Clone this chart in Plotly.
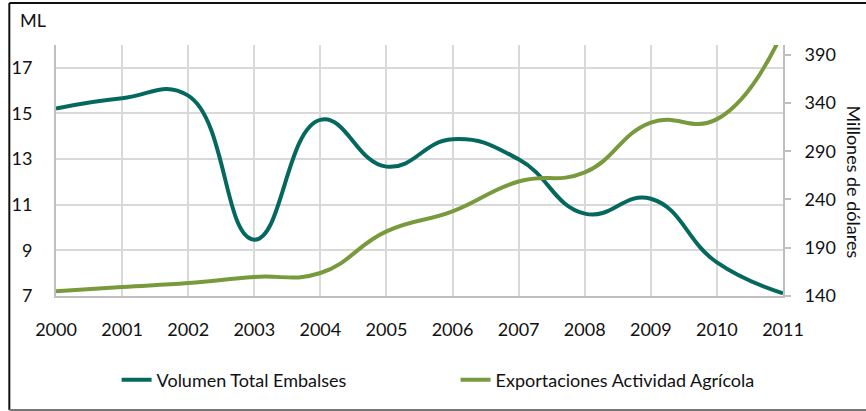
import plotly.graph_objects as go

# Data
years = [2000, 2001, 2002, 2003, 2004, 2005, 2006, 2007, 2008, 2009, 2010, 2011]
volumen_embalses = [15.22, 15.67, 15.78, 9.47, 14.72, 12.67, 13.87, 12.99, 10.61, 11.26, 8.47, 7.12]
exportaciones_agricolas = [144.8, 149.3, 153.4, 159.7, 163.8, 206.9, 227.6, 258.6, 268.0, 319.7, 323.2, 414.0]

left_ticks = [7, 9, 11, 13, 15, 17]
right_ticks = [140, 190, 240, 290, 340, 390]

# Layout geometry
W, H = 866, 411
ML, MR, MT, MB = 51, 83, 45, 115
PW, PH = W - ML - MR, H - MT - MB


def px(x):
    return (x - ML) / PW


def py(y):
    return (H - MB - y) / PH


TEAL = "#05685f"
OLIVE = "#789a3c"
GRID = "#d9d9d9"
AXIS = "#bfbfbf"
FONT = "Lato"
TEXT = "#111111"

fig = go.Figure()
fig.add_trace(go.Scatter(
    x=years, y=volumen_embalses, name="Volumen Total Embalses",
    mode="lines", line=dict(color=TEAL, width=4, shape="spline", smoothing=1.3),
    yaxis="y",
))
fig.add_trace(go.Scatter(
    x=years, y=exportaciones_agricolas, name="Exportaciones Actividad Agrícola",
    mode="lines", line=dict(color=OLIVE, width=4, shape="spline", smoothing=1.3),
    yaxis="y2",
))

fig.update_layout(
    width=W, height=H,
    margin=dict(l=ML, r=MR, t=MT, b=MB, pad=0),
    paper_bgcolor="white", plot_bgcolor="white",
    font=dict(family=FONT, size=18, color=TEXT),
    showlegend=True,
    legend=dict(
        orientation="h", x=px(112), y=py(380), xanchor="left", yanchor="middle",
        entrywidth=294, entrywidthmode="pixels",
        font=dict(family=FONT, size=18, color=TEXT),
        bgcolor="rgba(0,0,0,0)",
    ),
    xaxis=dict(
        range=[2000, 2011], tickmode="array", tickvals=years,
        ticktext=[str(y) for y in years],
        showgrid=True, gridcolor=GRID, gridwidth=1.5,
        showline=True, linecolor=AXIS, linewidth=2,
        ticks="", ticklabelstandoff=16, zeroline=False,
    ),
    yaxis=dict(
        range=[7, 18], tickmode="array", tickvals=left_ticks,
        showgrid=True, gridcolor=GRID, gridwidth=1.5,
        showline=True, linecolor=AXIS, linewidth=2,
        ticks="", ticklabelstandoff=18, zeroline=False,
    ),
    yaxis2=dict(
        range=[140, 400], tickmode="array", tickvals=right_ticks,
        overlaying="y", side="right", showgrid=False,
        showline=True, linecolor=AXIS, linewidth=2,
        ticks="outside", ticklen=6, tickcolor=AXIS, tickwidth=1.5,
        ticklabelstandoff=10, zeroline=False,
    ),
    annotations=[
        dict(text="ML", x=px(13), y=py(20), xref="paper", yref="paper",
             xanchor="left", yanchor="middle", showarrow=False,
             font=dict(family=FONT, size=18, color=TEXT)),
        dict(text="Millones de dólares", x=px(854), y=py(182), xref="paper", yref="paper",
             xanchor="center", yanchor="middle", showarrow=False, textangle=90,
             font=dict(family=FONT, size=18, color=TEXT)),
    ],
    shapes=[
        dict(type="line", xref="paper", yref="paper", x0=px(4), x1=px(4), y0=py(3), y1=py(410),
             line=dict(color="#111111", width=2)),
        dict(type="line", xref="paper", yref="paper", x0=px(4), x1=px(870), y0=py(3), y1=py(3),
             line=dict(color="#111111", width=2)),
        dict(type="line", xref="paper", yref="paper", x0=px(4), x1=px(870), y0=py(410), y1=py(410),
             line=dict(color="#777777", width=2)),
    ],
)

fig.write_html("out.html")
